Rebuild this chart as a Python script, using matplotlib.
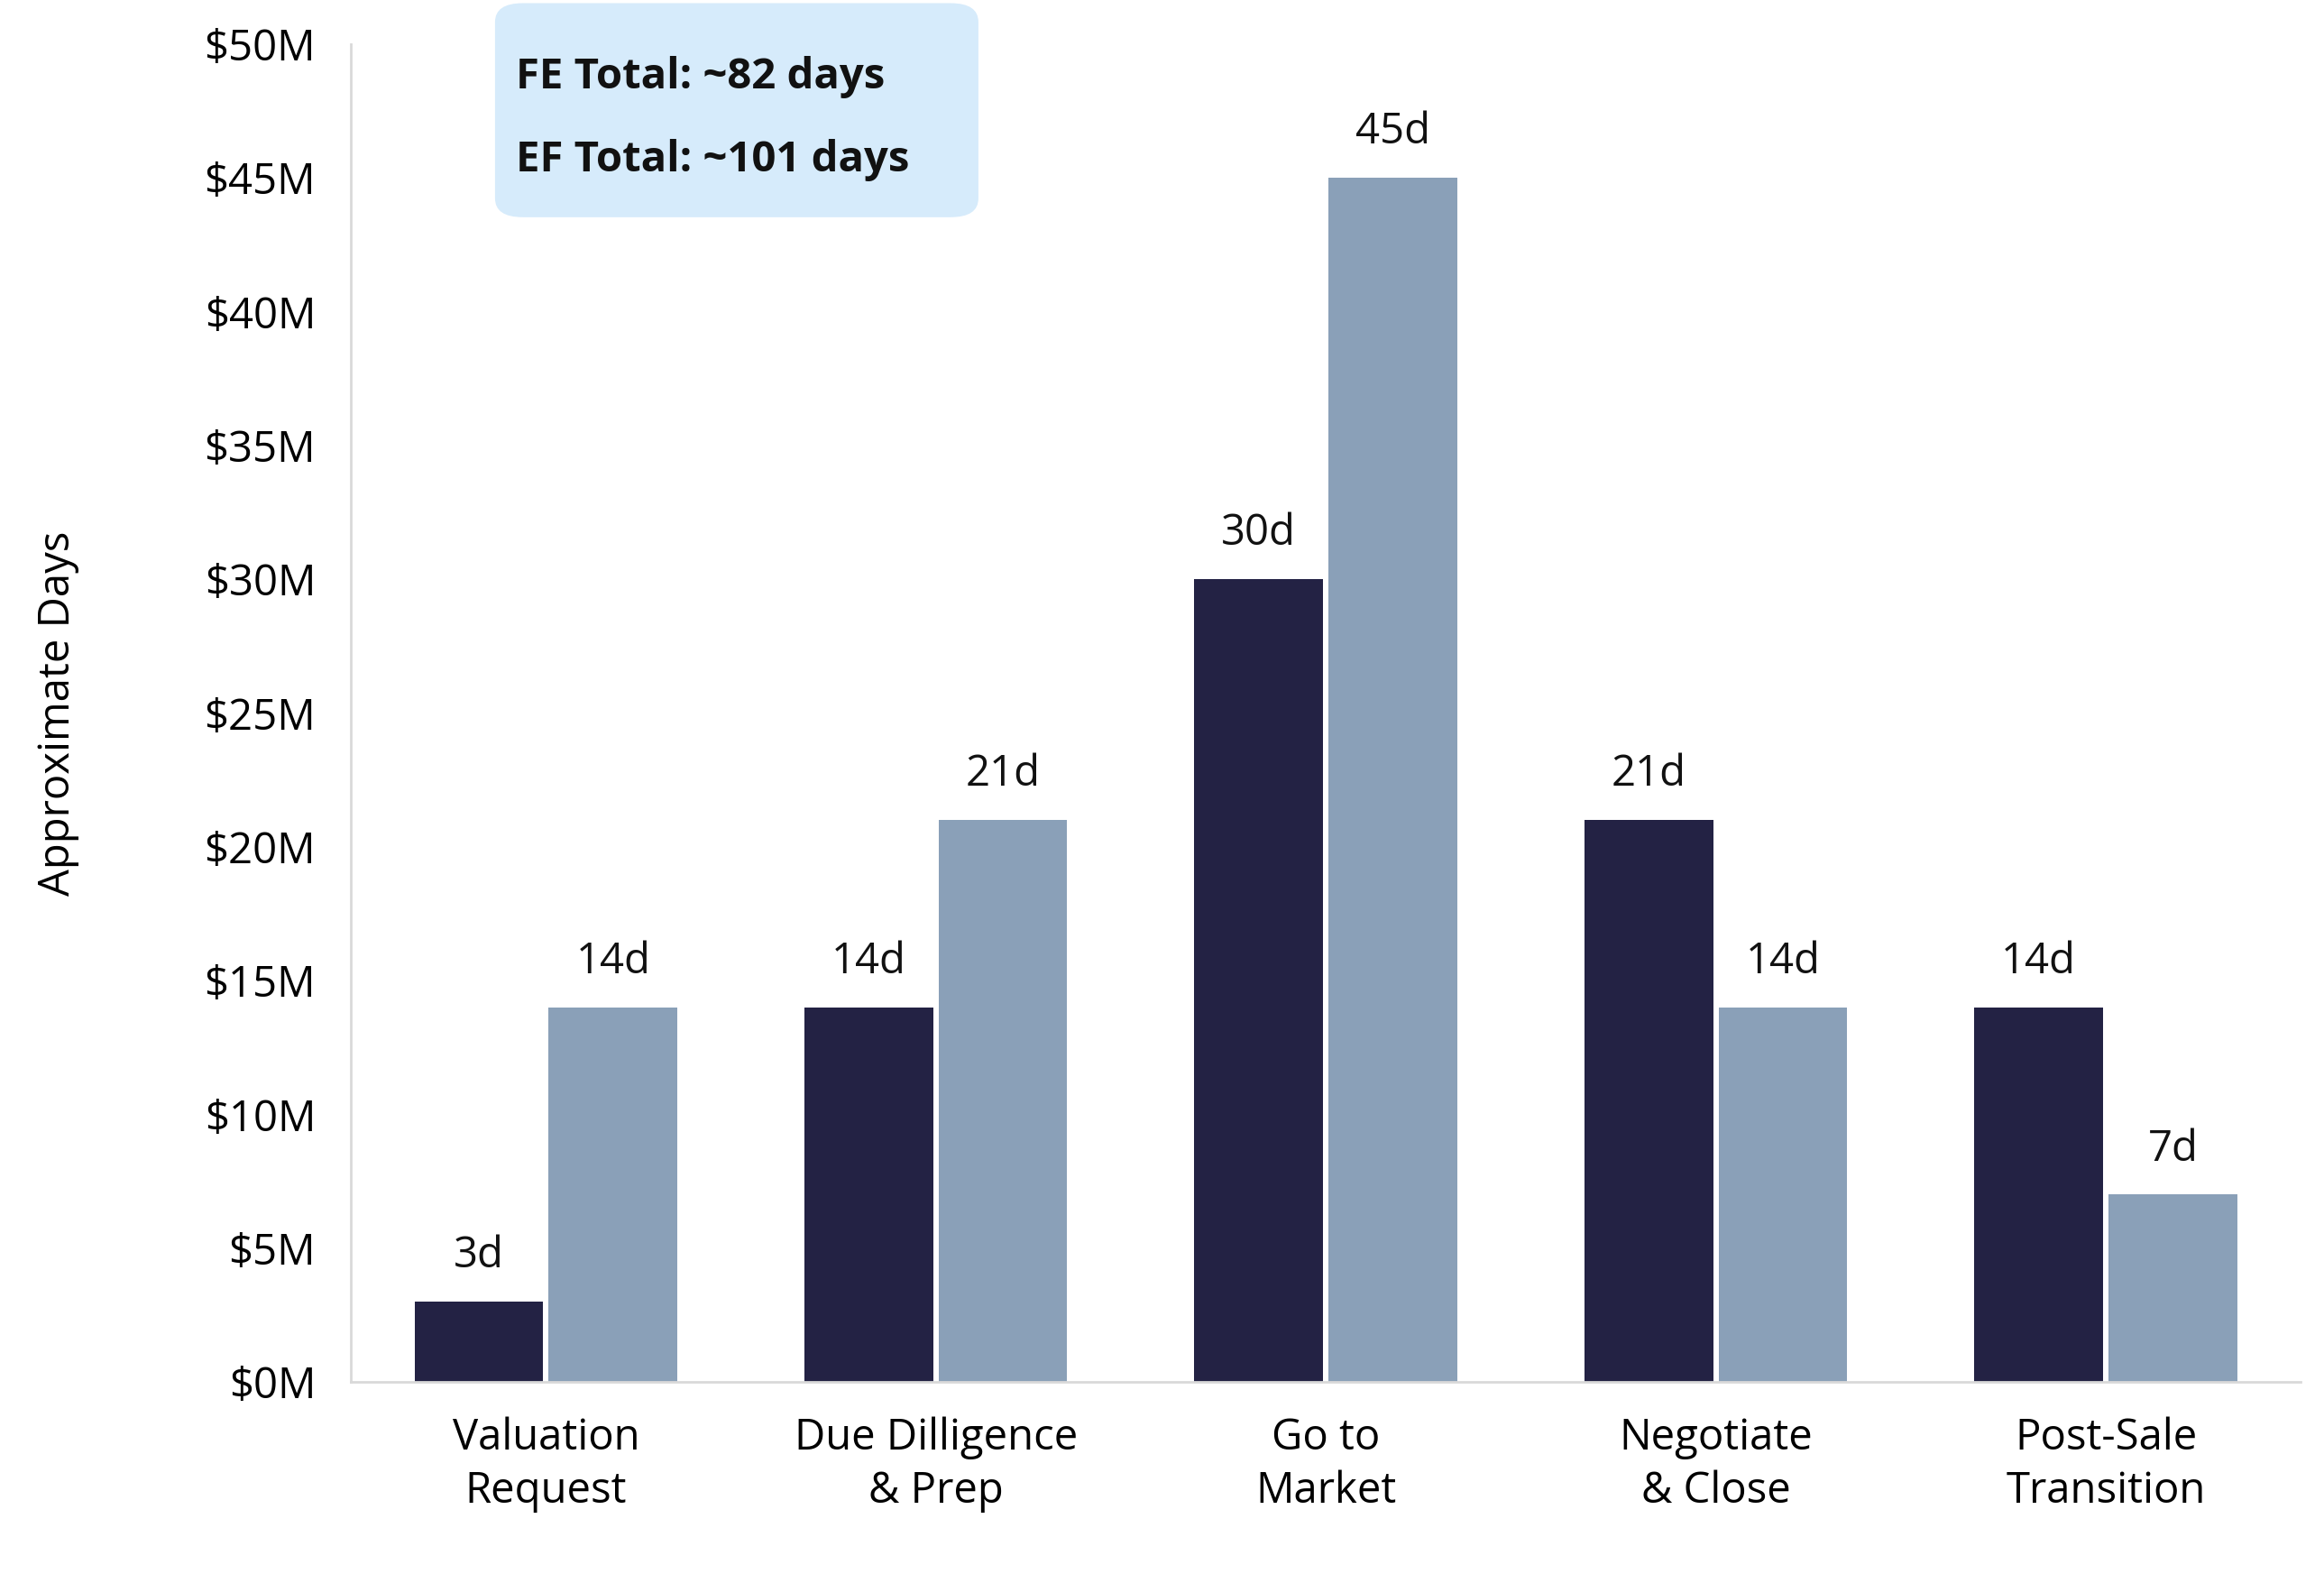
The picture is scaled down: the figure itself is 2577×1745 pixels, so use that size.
import matplotlib
matplotlib.use("Agg")
import matplotlib.pyplot as plt
import numpy as np
from matplotlib.patches import FancyBboxPatch

categories = ["Valuation\nRequest", "Due Dilligence\n& Prep", "Go to\nMarket", "Negotiate\n& Close", "Post-Sale\nTransition"]
fe_days = [3, 14, 30, 21, 14]
ef_days = [14, 21, 45, 14, 7]
yticks = [0, 5, 10, 15, 20, 25, 30, 35, 40, 45, 50]
ytick_labels = [f"${v}M" for v in yticks]

plt.rcParams['font.family'] = ['Open Sans', 'DejaVu Sans']
fig = plt.figure(figsize=(12.885, 8.725), dpi=200)
ax = fig.add_axes([0.151, 0.122, 0.839, 0.85])

x = np.arange(len(categories))
w = 0.33
off = 0.172
b1 = ax.bar(x - off, fe_days, w, color="#232244")
b2 = ax.bar(x + off, ef_days, w, color="#8AA0B8")
for bars, vals in ((b1, fe_days), (b2, ef_days)):
    for b, v in zip(bars, vals):
        ax.text(b.get_x() + b.get_width() / 2, v + 0.9, f"{v}d", ha="center", va="bottom", fontsize=17, color="#111111")

ax.set_ylim(0, 50)
ax.set_xlim(-0.5, 4.5)
ax.set_yticks(yticks)
ax.set_yticklabels(ytick_labels, fontsize=17)
ax.set_xticks(x)
ax.set_xticklabels(categories, fontsize=17, linespacing=1.3)
ax.tick_params(length=0, pad=14)
ax.tick_params(axis='x', pad=14)
for s in ("top", "right"):
    ax.spines[s].set_visible(False)
for s in ("left", "bottom"):
    ax.spines[s].set_color("#D9D9D9")
    ax.spines[s].set_linewidth(1)
ax.set_ylabel("Approximate Days", fontsize=17, labelpad=50)

box = FancyBboxPatch((0.213, 0.862), 0.208, 0.136, boxstyle="round,pad=0,rounding_size=0.012",
                     transform=fig.transFigure, facecolor="#D6EBFB", edgecolor="none")
fig.patches.append(box)
fig.text(0.222, 0.951, "FE Total: ~82 days", fontsize=17, fontweight="bold", va="center", color="#111111")
fig.text(0.222, 0.898, "EF Total: ~101 days", fontsize=17, fontweight="bold", va="center", color="#111111")

fig.savefig("out.png", dpi=200)
